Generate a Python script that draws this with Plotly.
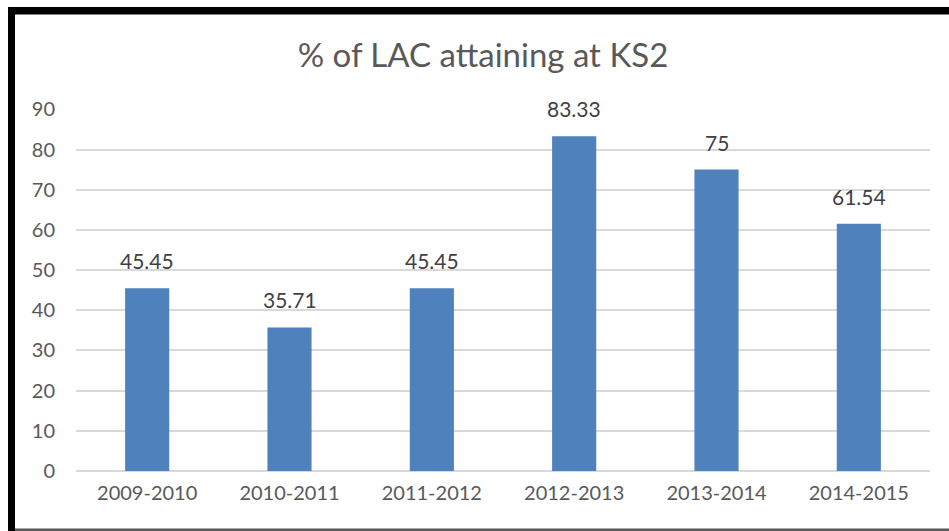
import plotly.graph_objects as go

categories = ["2009-2010", "2010-2011", "2011-2012", "2012-2013", "2013-2014", "2014-2015"]
values = [45.45, 35.71, 45.45, 83.33, 75, 61.54]
labels = ["45.45", "35.71", "45.45", "83.33", "75", "61.54"]
title_text = "% of LAC attaining at KS2"

W, H = 949, 531
L, R, T, B = 76, 19, 109, 60
pw = W - L - R
ph = H - T - B
FONT = "Lato"

def px(x):
    return (x - L) / pw

def py(y):
    return (H - B - y) / ph

fig = go.Figure(go.Bar(
    x=categories, y=values,
    marker=dict(color="#4F81BD", line=dict(width=0)),
    hoverinfo="skip",
))

annotations = [
    dict(x=c, y=v, text=t, showarrow=False, xanchor="center", yanchor="bottom", yshift=13,
         font=dict(size=21, color="#404040", family=FONT))
    for c, v, t in zip(categories, values, labels)
]

shapes = [
    dict(type="rect", xref="paper", yref="paper", x0=px(8), x1=px(960), y0=py(7), y1=py(14.5),
         fillcolor="black", line=dict(width=0), layer="above"),
    dict(type="rect", xref="paper", yref="paper", x0=px(8), x1=px(15), y0=py(7), y1=py(540),
         fillcolor="black", line=dict(width=0), layer="above"),
    dict(type="rect", xref="paper", yref="paper", x0=px(15), x1=px(960), y0=py(528.5), y1=py(531),
         fillcolor="#595959", line=dict(width=0), layer="above"),
]

fig.update_layout(
    width=W, height=H,
    margin=dict(l=L, r=R, t=T, b=B, autoexpand=False),
    paper_bgcolor="white", plot_bgcolor="white",
    bargap=0.69,
    showlegend=False,
    title=dict(text=title_text, xref="container", x=483 / W, xanchor="center", y=1 - 55 / H, yanchor="middle",
               font=dict(size=33, color="#595959", family=FONT)),
    xaxis=dict(showgrid=False, showline=False, ticks="", zeroline=False,
               tickfont=dict(size=20, color="#595959", family=FONT), ticklabelstandoff=8),
    yaxis=dict(range=[0, 90.08], tickvals=list(range(0, 100, 10)), showgrid=True, gridcolor="#D9D9D9", gridwidth=2,
               zeroline=True, zerolinecolor="#D9D9D9", zerolinewidth=2, showline=False, ticks="",
               tickfont=dict(size=20, color="#595959", family=FONT), ticklabelstandoff=20),
    shapes=shapes,
    annotations=annotations,
    font=dict(family=FONT),
)

fig.write_html("out.html", config={"displayModeBar": False},
               post_script="document.body.style.margin='0';document.body.style.padding='0';")
